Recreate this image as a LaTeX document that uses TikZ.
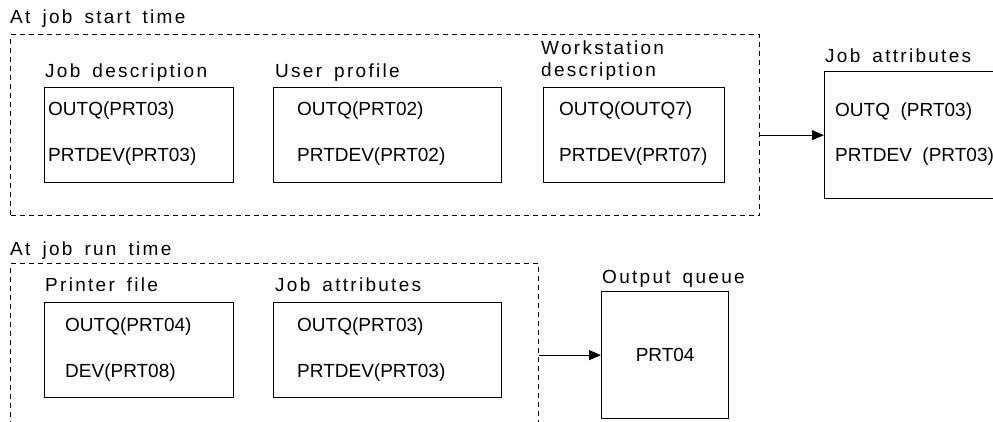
\documentclass[tikz,border=0pt]{standalone}
\usepackage{fontspec}
\setmainfont{Liberation Sans}
\newfontfamily\spacedfont[LetterSpace=12,WordSpace=1.6]{Liberation Sans}
\usepackage{tikz}
\usetikzlibrary{arrows.meta}
\tikzstyle{box}=[draw, line width=1.3pt, inner sep=0pt, anchor=north west]
\tikzstyle{frame}=[draw, line width=1.1pt, dash pattern=on 5pt off 4pt, inner sep=0pt, anchor=north west]
\tikzstyle{title}=[anchor=base west, inner sep=0pt, font=\spacedfont\fontsize{19}{23}\selectfont]
\tikzstyle{entry}=[anchor=base west, inner sep=0pt, font=\fontsize{19}{23}\selectfont]
\tikzstyle{link}=[line width=0.9pt, -{Triangle[length=12pt,width=10pt]}]

\begin{document}
\begin{tikzpicture}[x=1pt, y=1pt]
\useasboundingbox (0,0) rectangle (993,-422);
\clip (0,0) rectangle (993,-422);
% at job start time
\node[title] (T0) at (10,-24) {At job start time};
\node[frame, minimum width=749pt, minimum height=181pt] (Start) at (10,-34) {};
\node[title] (T1) at (45,-78) {Job description};
\node[title] (T2) at (275,-78) {User profile};
\node[title] (T3a) at (541,-55) {Workstation};
\node[title] (T3b) at (541,-77) {description};
\node[box, minimum width=189pt, minimum height=95pt] (JobD) at (44,-87) {};
\node[box, minimum width=228pt, minimum height=95pt] (UsrP) at (273,-87) {};
\node[box, minimum width=181pt, minimum height=95pt] (WrkD) at (543,-87) {};
\node[entry] (JobD1) at (48,-116) {OUTQ(PRT03)};
\node[entry] (JobD2) at (48,-162) {PRTDEV(PRT03)};
\node[entry] (UsrP1) at (297,-116) {OUTQ(PRT02)};
\node[entry] (UsrP2) at (297,-162) {PRTDEV(PRT02)};
\node[entry] (WrkD1) at (559,-116) {OUTQ(OUTQ7)};
\node[entry] (WrkD2) at (559,-162) {PRTDEV(PRT07)};
% resulting job attributes
\node[title] (T4) at (825,-63) {Job attributes};
\node[box, minimum width=185pt, minimum height=127pt] (JobA) at (824,-71) {};
\node[entry] (JobA1) at (835,-117) {OUTQ\ \ (PRT03)};
\node[entry] (JobA2) at (835,-162) {PRTDEV\ \ (PRT03)};
\draw[link] (Start.east |- JobA.west) -- (JobA.west);
% at job run time
\node[title] (T5) at (10,-255) {At job run time};
\node[frame, minimum width=528pt, minimum height=200pt] (Run) at (10,-263) {};
\node[title] (T6) at (45,-291) {Printer file};
\node[title] (T7) at (275,-291) {Job attributes};
\node[box, minimum width=189pt, minimum height=95pt] (PrtF) at (44,-302) {};
\node[box, minimum width=228pt, minimum height=95pt] (RunA) at (273,-302) {};
\node[entry] (PrtF1) at (65,-331) {OUTQ(PRT04)};
\node[entry] (PrtF2) at (65,-377) {DEV(PRT08)};
\node[entry] (RunA1) at (297,-331) {OUTQ(PRT03)};
\node[entry] (RunA2) at (297,-377) {PRTDEV(PRT03)};
% output queue
\node[title] (T8) at (602,-283) {Output queue};
\node[box, minimum width=127pt, minimum height=127pt] (OutQ) at (601,-291) {};
\node[font=\fontsize{19}{23}\selectfont] (OutQ1) at (OutQ.center) {PRT04};
\draw[link] (Run.east |- OutQ.west) -- (OutQ.west);
\end{tikzpicture}
\end{document}
